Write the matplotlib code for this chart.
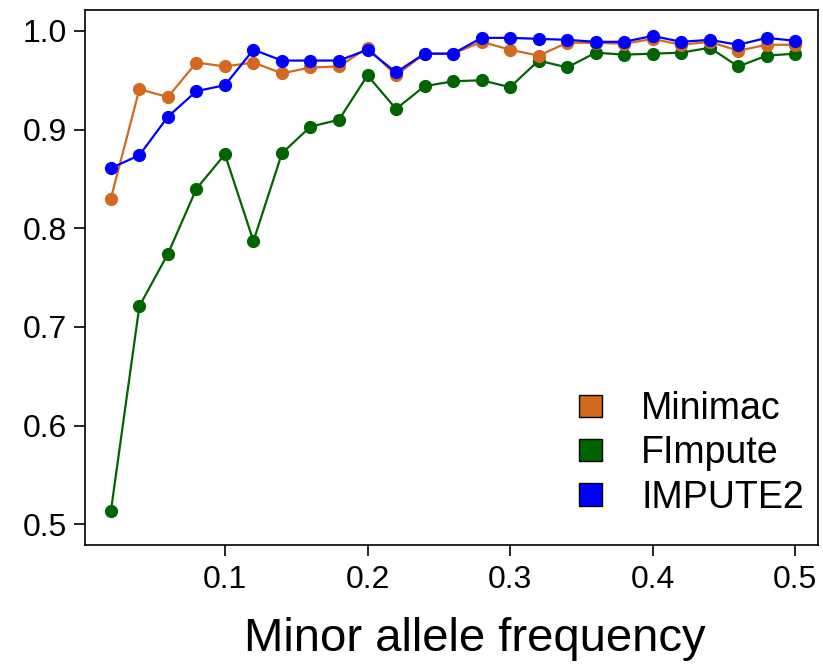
import numpy as np
from matplotlib import pyplot as plt
from matplotlib.patches import Patch

maf = np.arange(1, 26) * 0.02

minimac = [0.830, 0.941, 0.933, 0.968, 0.964, 0.968, 0.957, 0.963, 0.964, 0.983,
           0.955, 0.977, 0.977, 0.989, 0.981, 0.975, 0.988, 0.988, 0.987, 0.992,
           0.986, 0.989, 0.980, 0.986, 0.986]
fimpute = [0.513, 0.721, 0.774, 0.840, 0.875, 0.787, 0.876, 0.903, 0.910, 0.955,
           0.921, 0.944, 0.949, 0.950, 0.943, 0.970, 0.963, 0.978, 0.976, 0.977,
           0.978, 0.983, 0.964, 0.975, 0.977]
impute2 = [0.861, 0.874, 0.913, 0.939, 0.945, 0.981, 0.970, 0.970, 0.970, 0.981,
           0.958, 0.977, 0.977, 0.993, 0.993, 0.992, 0.991, 0.989, 0.989, 0.995,
           0.989, 0.991, 0.986, 0.993, 0.990]

labels = ['Minimac', 'FImpute', 'IMPUTE2']
colors = ['#D2691E', '#006400', '#0000FF']

plt.rcParams['font.family'] = ['Liberation Sans', 'DejaVu Sans']

fig = plt.figure(figsize=(8.23, 6.64), dpi=100)
ax = fig.add_axes([0.103, 0.179, 0.891, 0.806])

ax.plot(maf, fimpute, color=colors[1], marker='o', markersize=8.5, linewidth=1.6)
ax.plot(maf, minimac, color=colors[0], marker='o', markersize=8.5, linewidth=1.6)
ax.plot(maf, impute2, color=colors[2], marker='o', markersize=8.5, linewidth=1.6)

ax.set_xlim(0.0017, 0.516)
ax.set_ylim(0.4787, 1.0213)
ax.set_xticks([0.1, 0.2, 0.3, 0.4, 0.5])
ax.set_xticklabels(['0.1', '0.2', '0.3', '0.4', '0.5'])
ax.set_yticks([0.5, 0.6, 0.7, 0.8, 0.9, 1.0])
ax.set_yticklabels(['0.5', '0.6', '0.7', '0.8', '0.9', '1.0'])
ax.tick_params(axis='both', labelsize=23, length=8, width=1.2, direction='out')
ax.tick_params(axis='x', pad=6)
ax.tick_params(axis='y', pad=5)
for s in ax.spines.values():
    s.set_linewidth(1.2)

ax.set_xlabel('Minor allele frequency', fontsize=34, labelpad=4)
ax.xaxis.set_label_coords(0.532, -0.135)

handles = [Patch(facecolor=c, edgecolor='black', linewidth=1) for c in colors]
ax.legend(handles, labels, loc='lower right', bbox_to_anchor=(1.027, -0.008),
          frameon=False, fontsize=27, handlelength=0.6, handleheight=0.55,
          handletextpad=1.05, labelspacing=0.22)

plt.savefig('out.png', dpi=100)
